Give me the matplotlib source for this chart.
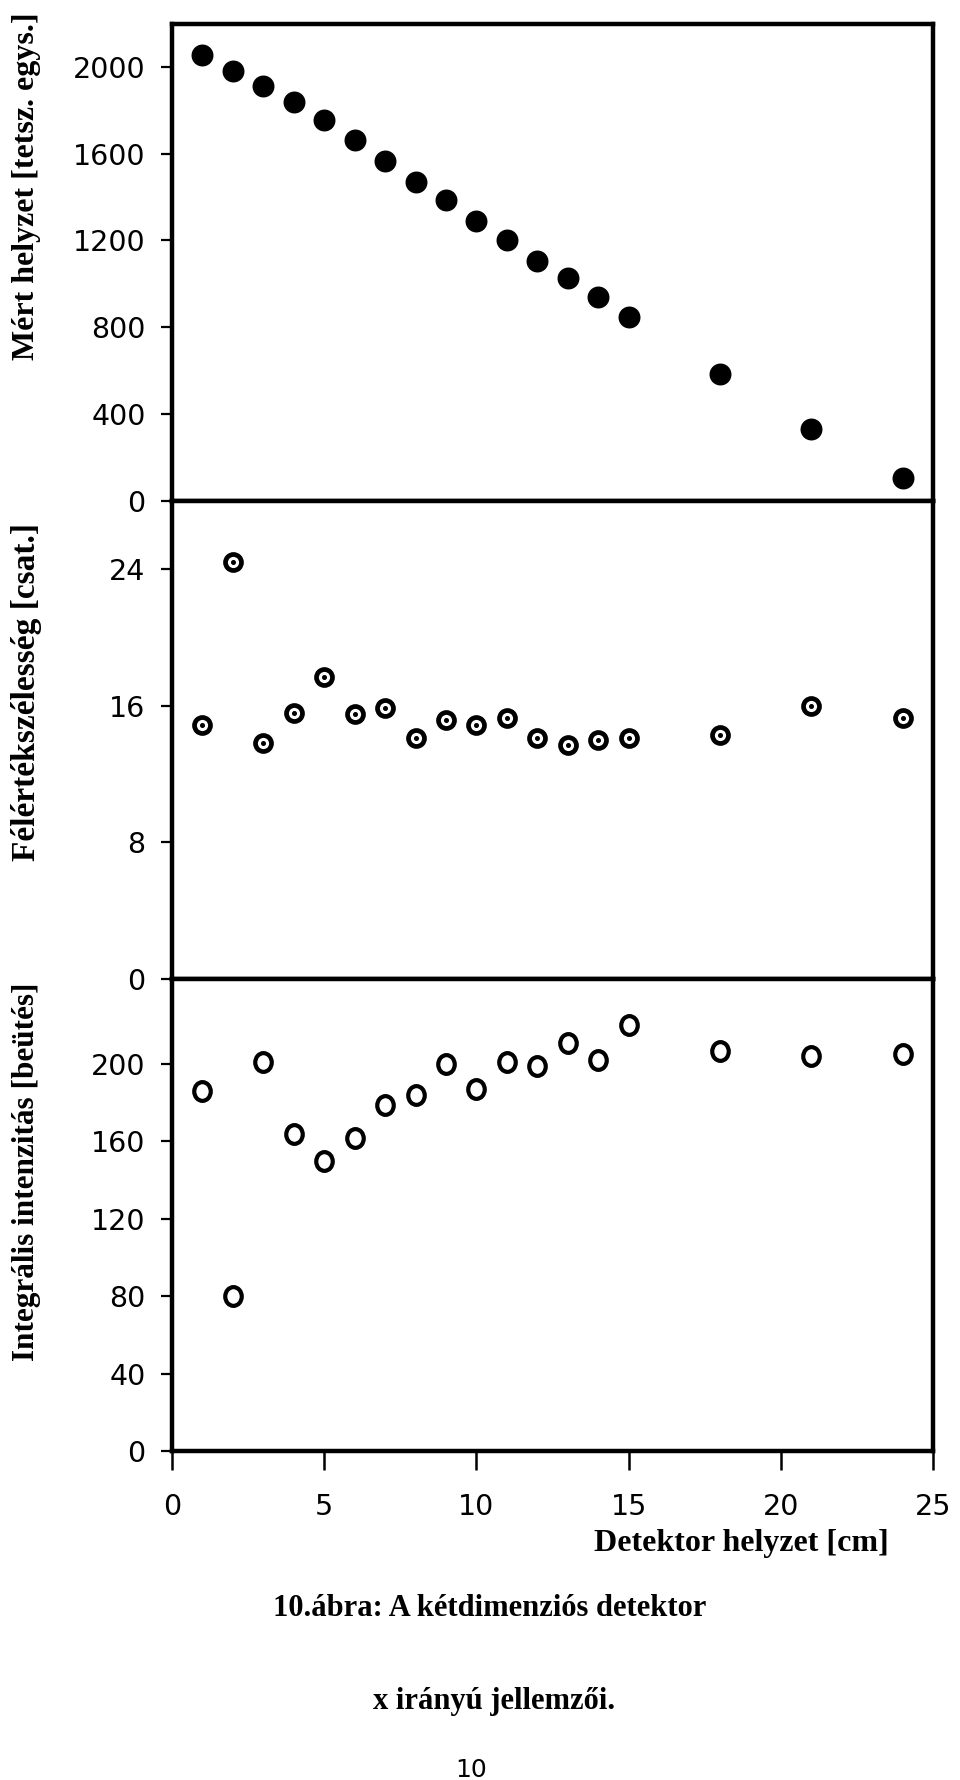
import matplotlib
matplotlib.use("Agg")
import matplotlib.pyplot as plt
from matplotlib.path import Path
from matplotlib.transforms import Affine2D

# detektor pozíciók [cm]
det_pos = [1, 2, 3, 4, 5, 6, 7, 8, 9, 10, 11, 12, 13, 14, 15, 18, 21, 24]

# mért helyzet [tetsz. egys.]
mert_helyzet = [2054, 1980, 1911, 1836, 1755, 1661, 1567, 1469, 1385,
                1291, 1201, 1107, 1028, 939, 848, 586, 332, 107]

# félértékszélesség [csat.]
felertek = [14.9, 24.4, 13.8, 15.6, 17.7, 15.5, 15.9, 14.1, 15.2,
            14.9, 15.3, 14.1, 13.7, 14.0, 14.1, 14.3, 16.0, 15.3]

# integrális intenzitás [beütés]
intenzitas = [186, 80, 201, 164, 150, 162, 179, 184, 200,
              187, 201, 199, 211, 202, 220, 207, 204, 205]

x_ticks = [0, 5, 10, 15, 20, 25]
y_ticks_top = [0, 400, 800, 1200, 1600, 2000]
y_ticks_mid = [0, 8, 16, 24]
y_ticks_bot = [0, 40, 80, 120, 160, 200]

W, H = 960, 1780
fig = plt.figure(figsize=(W / 100, H / 100), dpi=100)

def px(x0, y0, x1, y1):
    # pixel box -> figure fraction
    return [x0 / W, 1 - y1 / H, (x1 - x0) / W, (y1 - y0) / H]

ax1 = fig.add_axes(px(172, 24, 933, 501))
ax2 = fig.add_axes(px(172, 501, 933, 979))
ax3 = fig.add_axes(px(172, 979, 933, 1451))

tick_font = {"family": "DejaVu Sans", "size": 20.5}
serif = ["Liberation Serif", "DejaVu Serif"]

for ax in (ax1, ax2, ax3):
    ax.set_xlim(0, 25)
    for s in ax.spines.values():
        s.set_linewidth(3.2)
        s.set_color("black")
    ax.tick_params(axis="y", direction="out", length=8, width=1.6, pad=11,
                   left=True, right=False)
    ax.tick_params(axis="x", bottom=False, labelbottom=False)
    ax.set_facecolor("white")

# felső panel: teli körök
ax1.plot(det_pos, mert_helyzet, "o", color="black", ms=14.8, ls="none")
ax1.set_ylim(0, 2197)
ax1.set_yticks(y_ticks_top)

# középső panel: kör ponttal
ax2.plot(det_pos, felertek, "o", mfc="white", mec="black", mew=3.4, ms=11.5, ls="none")
ax2.plot(det_pos, felertek, "o", color="black", ms=2.6, ls="none")
ax2.set_ylim(0, 28)
ax2.set_yticks(y_ticks_mid)

# alsó panel: üres "O" körök
oval = Path.unit_circle().transformed(Affine2D().scale(0.88, 1.0))
ax3.plot(det_pos, intenzitas, ls="none", marker=oval, mfc="white", mec="black",
         mew=3.0, ms=13.5)
ax3.set_ylim(0, 244)
ax3.set_yticks(y_ticks_bot)
ax3.set_xticks(x_ticks)
ax3.tick_params(axis="x", bottom=True, labelbottom=True, direction="out",
                length=14, width=1.8, pad=16)

for ax in (ax1, ax2, ax3):
    for lab in ax.get_yticklabels() + ax.get_xticklabels():
        lab.set_fontfamily(tick_font["family"])
        lab.set_fontsize(tick_font["size"])

# tengelyfeliratok
def ylab(txt, y, size):
    fig.text(27 / W, 1 - y / H, txt, rotation=90, ha="center", va="center",
             family=serif, weight="bold", fontsize=size)

ylab("Mért helyzet [tetsz. egys.]", 186, 23)
ylab("Félértékszélesség [csat.]", 692, 24)
ylab("Integrális intenzitás [beütés]", 1172, 22.5)

fig.text(889 / W, 1 - 1543 / H, "Detektor helyzet [cm]", ha="right", va="center",
         family=serif, weight="bold", fontsize=23)

fig.text(490 / W, 1 - 1609 / H, "10.ábra: A kétdimenziós detektor", ha="center",
         va="center", family=serif, weight="bold", fontsize=22)
fig.text(494 / W, 1 - 1702 / H, "x irányú jellemzői.", ha="center",
         va="center", family=serif, weight="bold", fontsize=22)
fig.text(471 / W, 1 - 1770 / H, "10", ha="center", va="center",
         family=["DejaVu Sans"], color="black", fontsize=18)

fig.savefig("out.png", dpi=100, facecolor="white")
